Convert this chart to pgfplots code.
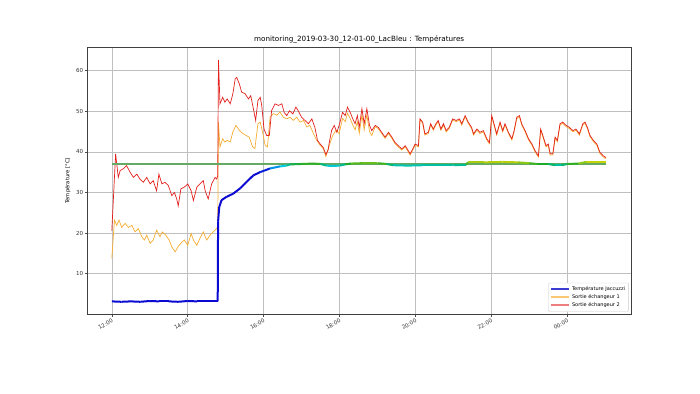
\documentclass[border=0pt]{standalone}
\usepackage{fontspec}
\setmainfont{DejaVu Sans}
\usepackage{pgfplots}
\usepackage{pgfplotstable}
\pgfplotsset{compat=1.18}
\definecolor{cred}{RGB}{226,32,30}
\definecolor{corange}{RGB}{245,172,50}
\definecolor{cblue}{RGB}{10,10,210}
\definecolor{cgreen}{RGB}{100,170,100}
\definecolor{lgred}{RGB}{240,125,125}
\definecolor{lgorange}{RGB}{250,200,115}
\definecolor{lgblue}{RGB}{60,60,210}
\pgfplotsset{colormap={jac}{rgb255(0pt)=(10,10,210) rgb255(353pt)=(10,10,210) rgb255(360pt)=(0,120,240) rgb255(365pt)=(0,205,225) rgb255(368pt)=(0,185,130) rgb255(370pt)=(30,170,40) rgb255(373pt)=(140,200,20) rgb255(376pt)=(225,215,0)}}

\pgfplotstableread{
h T
0.00 20.6
0.10 39.5
0.17 33.7
0.22 35.4
0.30 35.8
0.39 36.6
0.48 35.0
0.57 33.7
0.66 34.5
0.74 33.3
0.83 32.5
0.92 33.7
1.01 32.1
1.09 32.9
1.18 30.4
1.24 34.5
1.32 32.1
1.40 32.5
1.49 31.7
1.58 29.2
1.65 30.0
1.71 28.4
1.75 26.7
1.82 30.9
1.91 31.3
2.00 32.1
2.09 30.4
2.15 28.0
2.24 31.3
2.32 32.1
2.41 32.9
2.46 30.4
2.54 28.4
2.63 32.1
2.72 33.7
2.76 33.3
2.79 34.0
2.81 62.6
2.85 51.8
2.92 53.4
2.98 52.2
3.04 53.0
3.12 51.8
3.19 54.3
3.25 57.9
3.29 58.3
3.36 56.7
3.42 54.7
3.51 54.3
3.60 53.0
3.66 53.8
3.73 50.6
3.79 47.7
3.85 52.6
3.91 53.4
3.95 51.4
4.01 45.6
4.08 44.0
4.15 44.0
4.21 50.1
4.30 51.8
4.39 51.4
4.48 51.8
4.54 49.7
4.61 48.9
4.68 50.1
4.77 49.3
4.85 51.0
4.91 50.1
5.00 48.5
5.09 47.7
5.18 46.9
5.27 48.1
5.35 46.0
5.42 42.8
5.49 41.9
5.57 41.1
5.64 39.3
5.70 40.5
5.73 42.3
5.79 45.2
5.86 46.5
5.93 44.8
5.99 46.5
6.08 49.7
6.15 48.9
6.21 51.0
6.28 49.7
6.35 48.1
6.41 46.9
6.47 48.9
6.52 46.0
6.59 50.6
6.65 46.9
6.72 50.6
6.79 46.5
6.85 45.2
6.94 46.5
7.02 46.0
7.11 44.8
7.20 43.6
7.29 44.8
7.38 43.6
7.46 42.3
7.55 41.5
7.64 40.7
7.73 41.5
7.81 40.3
7.86 39.5
7.93 40.7
7.99 41.9
8.08 41.5
8.12 48.1
8.19 47.3
8.25 44.4
8.34 44.8
8.40 46.9
8.47 45.6
8.54 46.9
8.60 47.7
8.67 45.6
8.74 46.9
8.81 45.2
8.89 46.0
8.98 48.1
9.07 47.7
9.16 48.1
9.22 46.9
9.31 48.9
9.39 47.3
9.48 46.0
9.53 44.4
9.62 45.6
9.70 44.8
9.79 45.2
9.88 43.2
9.95 42.3
10.01 48.9
10.07 46.9
10.14 44.4
10.23 47.3
10.30 45.2
10.36 46.9
10.45 44.8
10.54 43.2
10.60 45.2
10.67 48.5
10.74 48.9
10.80 46.9
10.89 45.2
10.98 43.2
11.07 41.9
11.15 40.3
11.24 39.0
11.30 45.6
11.37 43.6
11.44 41.5
11.50 41.9
11.55 39.5
11.62 39.5
11.68 43.6
11.74 42.8
11.81 46.9
11.88 47.3
11.97 46.5
12.06 46.0
12.15 45.2
12.23 45.6
12.32 44.4
12.41 46.9
12.47 47.3
12.53 46.0
12.60 44.0
12.69 42.8
12.78 41.9
12.86 39.9
12.95 39.0
13.02 38.6
}\redtab

\pgfplotstableread{
h T
0.00 13.8
0.07 23.2
0.13 21.9
0.19 23.2
0.26 21.4
0.35 22.4
0.44 21.4
0.53 21.9
0.61 20.3
0.70 21.1
0.79 19.1
0.86 18.3
0.92 19.5
1.01 17.5
1.09 18.3
1.18 20.7
1.27 19.1
1.33 20.3
1.42 19.5
1.51 18.3
1.58 16.6
1.67 15.4
1.74 16.6
1.82 17.5
1.91 18.3
2.00 17.0
2.09 19.9
2.15 18.3
2.24 17.0
2.32 18.7
2.41 20.3
2.50 18.3
2.59 19.5
2.67 20.3
2.76 21.1
2.79 21.5
2.81 47.3
2.85 41.2
2.92 43.2
2.98 42.4
3.04 42.8
3.12 42.4
3.19 44.9
3.27 46.5
3.36 45.3
3.45 44.5
3.54 44.0
3.62 43.6
3.71 41.2
3.77 40.8
3.85 46.9
3.91 47.3
3.98 44.5
4.04 41.6
4.10 41.2
4.17 48.5
4.26 49.4
4.35 49.0
4.43 49.8
4.52 48.5
4.61 48.1
4.70 48.5
4.78 47.7
4.87 48.5
4.96 47.3
5.05 47.7
5.14 46.1
5.22 46.5
5.31 44.5
5.40 42.8
5.49 41.6
5.57 40.8
5.64 38.8
5.73 41.6
5.82 44.0
5.91 45.3
5.99 44.5
6.08 48.2
6.15 47.4
6.21 49.5
6.28 48.2
6.35 46.6
6.41 45.4
6.47 47.4
6.52 44.5
6.59 49.1
6.65 45.4
6.72 49.1
6.79 45.0
6.85 44.0
6.94 46.2
7.02 45.7
7.11 44.5
7.20 43.3
7.29 44.5
7.38 43.3
7.46 42.0
7.55 41.2
7.64 40.4
7.73 41.2
7.81 40.0
7.86 39.2
7.93 40.4
7.99 41.6
8.08 41.2
8.12 47.8
8.19 47.0
8.25 44.1
8.34 44.5
8.40 46.6
8.47 45.3
8.54 46.6
8.60 47.4
8.67 45.3
8.74 46.6
8.81 44.9
8.89 45.7
8.98 47.8
9.07 47.4
9.16 47.8
9.22 46.6
9.31 48.6
9.39 47.0
9.48 45.7
9.53 44.1
9.62 45.3
9.70 44.5
9.79 44.9
9.88 42.9
9.95 42.0
10.01 48.6
10.07 46.6
10.14 44.1
10.23 47.0
10.30 44.9
10.36 46.6
10.45 44.5
10.54 42.9
10.60 44.9
10.67 48.2
10.74 48.6
10.80 46.6
10.89 44.9
10.98 42.9
11.07 41.6
11.15 40.0
11.24 38.7
11.30 45.3
11.37 43.3
11.44 41.2
11.50 41.6
11.55 39.2
11.62 39.2
11.68 43.3
11.74 42.5
11.81 46.6
11.88 47.0
11.97 46.2
12.06 45.7
12.15 44.9
12.23 45.3
12.32 44.1
12.41 46.6
12.47 47.0
12.53 45.7
12.60 43.7
12.69 42.5
12.78 41.6
12.86 39.6
12.95 38.7
13.02 38.3
}\orangetab

\pgfplotstableread{
h T
0.00 3.2
0.25 3.1
0.50 3.2
0.75 3.1
1.00 3.3
1.25 3.2
1.50 3.2
1.75 3.1
2.00 3.3
2.25 3.2
2.50 3.2
2.79 3.2
2.80 22.8
2.83 26.4
2.89 28.1
3.02 28.9
3.20 29.7
3.38 31.0
3.55 32.6
3.73 34.2
3.91 35.0
4.17 35.9
4.43 36.4
4.60 36.6
4.70 36.9
4.87 36.95
5.00 37.0
5.30 37.1
5.50 37.0
5.66 36.6
5.80 36.5
6.00 36.6
6.15 36.9
6.30 37.1
6.60 37.2
7.00 37.2
7.24 37.0
7.41 36.7
7.80 36.6
8.20 36.7
8.60 36.7
9.00 36.7
9.34 36.8
9.38 37.4
9.80 37.4
10.30 37.5
10.70 37.4
11.00 37.2
11.20 37.0
11.50 37.0
11.68 36.7
11.86 36.7
12.00 37.0
12.30 37.1
12.50 37.5
12.80 37.5
13.02 37.5
}\bluetab

\pgfplotstableread{
h T
0.00 37.0
13.02 37.0
}\setpointtab

\begin{document}
\begin{tikzpicture}
\path[use as bounding box] (-87.3pt,-78.6pt) rectangle (612.7pt,314.4pt);
\begin{axis}[
  at={(0pt,0pt)}, anchor=south west,
  scale only axis, width=543.7pt, height=267.1pt,
  xmin=-0.646, xmax=13.68, ymin=0, ymax=65.7,
  xtick={0,2,4,6,8,10,12},
  xticklabels={12:00,14:00,16:00,18:00,20:00,22:00,00:00},
  ytick={10,20,30,40,50,60},
  /pgf/number format/assume math mode=true,
  tick label style={font=\fontsize{5.5}{6}\selectfont, text=black!80},
  xticklabel style={rotate=30, anchor=north east, inner sep=1pt},
  yticklabel style={inner sep=1.5pt},
  tick align=outside, major tick length=2.5pt,
  tick style={black!70, line width=0.5pt},
  xtick pos=bottom, ytick pos=left,
  axis line style={black!75, line width=0.6pt},
  grid=major, grid style={black!25, line width=0.5pt},
  title={monitoring\_2019-03-30\_12-01-00\_LacBleu : Températures},
  title style={font=\fontsize{7.2}{8}\selectfont, anchor=south, at={(0.5,1)}, yshift=-3pt, inner sep=1pt},
  ylabel={Température [°C]},
  ylabel style={font=\fontsize{5.3}{6}\selectfont, at={(axis description cs:-0.036,0.5)}, anchor=center},
  colormap name=jac, point meta min=0, point meta max=37.6,
  legend style={at={(0.996,0.01)}, anchor=south east, font=\fontsize{5}{6}\selectfont,
    draw=black!20, fill=white, inner sep=1.5pt, row sep=-1.5pt, rounded corners=1pt},
  legend cell align=left,
  legend image code/.code={\draw[#1, line width=2pt] (0pt,0pt) -- (18pt,0pt);},
]
\addlegendimage{lgblue}
\addlegendentry{Température Jaccuzzi}
\addlegendimage{lgorange}
\addlegendentry{Sortie échangeur 1}
\addlegendimage{lgred}
\addlegendentry{Sortie échangeur 2}
\addplot[corange, line width=0.7pt, forget plot] table[x=h, y=T] {\orangetab};
\addplot[cred, line width=0.7pt, forget plot] table[x=h, y=T] {\redtab};
\addplot[cgreen, line width=1.2pt, forget plot] table[x=h, y=T] {\setpointtab};
\addplot[mesh, point meta=y, line width=2pt, forget plot] table[x=h, y=T] {\bluetab};
\end{axis}
\end{tikzpicture}
\end{document}
